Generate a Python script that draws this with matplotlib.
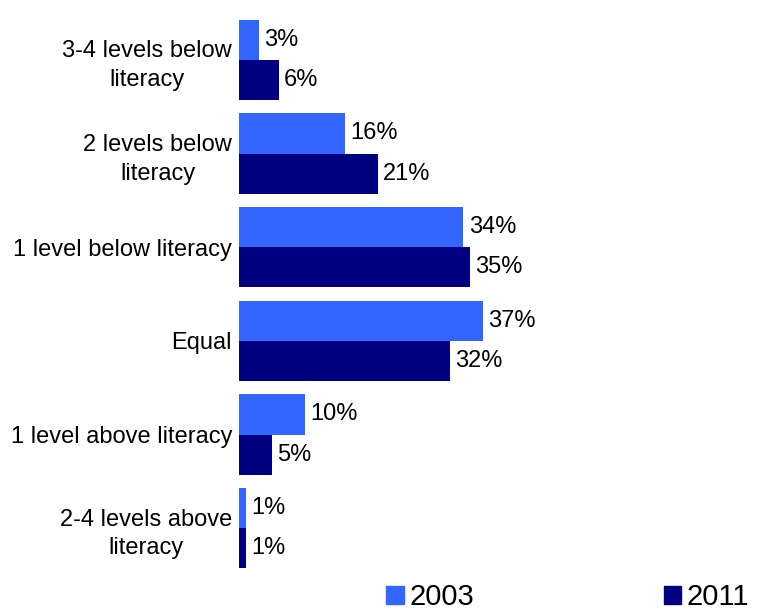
import numpy as np
import matplotlib.pyplot as plt
from matplotlib.patches import Patch

plt.rcParams['font.family'] = ['Liberation Sans', 'DejaVu Sans']

categories = ["3-4 levels below\nliteracy", "2 levels below\nliteracy",
              "1 level below literacy", "Equal", "1 level above literacy",
              "2-4 levels above\nliteracy"]
vals_2003 = [3, 16, 34, 37, 10, 1]
vals_2011 = [6, 21, 35, 32, 5, 1]
series = ["2003", "2011"]
colors = ["#3366FF", "#000080"]

fig = plt.figure(figsize=(7.58, 6.15), dpi=100)
ax = fig.add_axes([239 / 758, 40 / 615, 400 / 758, 562 / 615])

y = np.arange(len(categories))
h = 0.43
ax.barh(y - h / 2, vals_2003, height=h, color=colors[0])
ax.barh(y + h / 2, vals_2011, height=h, color=colors[1])

for yi, v in zip(y, vals_2003):
    ax.text(v + 0.8, yi - h / 2, f"{v}%", va="center", ha="left", fontsize=17)
for yi, v in zip(y, vals_2011):
    ax.text(v + 0.8, yi + h / 2, f"{v}%", va="center", ha="left", fontsize=17)

ax.set_xlim(0, 400 / 6.6)
ax.set_ylim(5.5, -0.5)
ax.set_yticks(y)
ax.set_yticklabels(categories, fontsize=17, multialignment="center", linespacing=1.4)
ax.tick_params(axis="y", length=0, pad=5)
ax.set_xticks([])
for s in ax.spines.values():
    s.set_visible(False)

handles = [Patch(color=c) for c in colors]
fig.legend(handles, series, loc="lower left", bbox_to_anchor=(386 / 758, 0.006),
           ncol=2, frameon=False, fontsize=21, handlelength=0.6, handleheight=0.6,
           handletextpad=0.2, columnspacing=6.5, borderpad=0, borderaxespad=0)

fig.savefig("out.png", dpi=100)
